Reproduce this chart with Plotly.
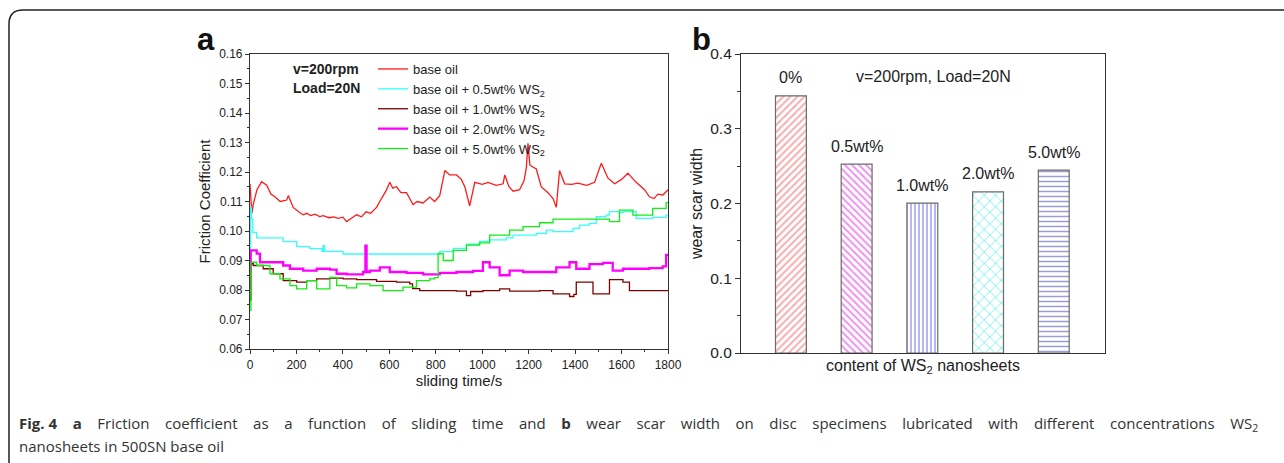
import plotly.graph_objects as go

W, H = 1284, 463

# ---------------- Data: panel a (friction coefficient vs time) ----------------
t_base = [0, 8, 14, 30, 50, 72, 90, 107, 130, 158, 165, 186, 215, 230, 244, 262, 280, 300, 315, 340, 360, 380, 400, 416,
          440, 459, 480, 500, 520, 545, 566, 585, 602, 615, 631, 650, 674, 702, 720, 745, 760, 774, 795, 817, 839, 860,
          889, 910, 925, 946, 968, 1000, 1025, 1060, 1090, 1097, 1115, 1133, 1161, 1180, 1190, 1197, 1205, 1211, 1233,
          1254, 1283, 1305, 1319, 1333, 1355, 1385, 1412, 1450, 1484, 1513, 1541, 1570, 1600, 1627, 1663, 1699, 1720,
          1740, 1756, 1778, 1800]
mu_base = [0.116, 0.106, 0.109, 0.114, 0.1167, 0.1155, 0.1125, 0.1116, 0.110, 0.1105, 0.112, 0.108, 0.1062, 0.1055,
           0.106, 0.1052, 0.1057, 0.1049, 0.1052, 0.1045, 0.1048, 0.1043, 0.1047, 0.1032, 0.1045, 0.1055, 0.1048,
           0.1065, 0.106, 0.108, 0.111, 0.1135, 0.1165, 0.1145, 0.115, 0.113, 0.113, 0.109, 0.110, 0.1095, 0.1105,
           0.1115, 0.110, 0.112, 0.1205, 0.119, 0.119, 0.1175, 0.115, 0.1085, 0.1165, 0.1158, 0.1165, 0.1155, 0.116,
           0.119, 0.115, 0.1135, 0.114, 0.117, 0.1215, 0.1297, 0.1225, 0.122, 0.121, 0.115, 0.113, 0.111, 0.108,
           0.1205, 0.116, 0.1158, 0.1162, 0.1155, 0.1165, 0.123, 0.118, 0.116, 0.1175, 0.1196, 0.1165, 0.114, 0.1116,
           0.111, 0.1125, 0.1122, 0.114]

t_05 = [0, 2, 6, 12, 29, 100, 143, 201, 258, 310, 315, 320, 401, 803, 817, 875, 932, 989, 1032, 1104, 1133, 1176,
        1233, 1276, 1305, 1391, 1419, 1462, 1491, 1534, 1548, 1591, 1606, 1663, 1734, 1792, 1800]
mu_05 = [0.087, 0.108, 0.104, 0.0995, 0.0977, 0.0977, 0.0964, 0.0947, 0.094, 0.0931, 0.095, 0.0931, 0.0922, 0.0922,
         0.093, 0.0941, 0.0955, 0.0965, 0.097, 0.0977, 0.0986, 0.0986, 0.0992, 0.1003, 0.0998, 0.1009, 0.102, 0.1026,
         0.1049, 0.1054, 0.1066, 0.1062, 0.1066, 0.1043, 0.1046, 0.1054, 0.1054]

t_10 = [0, 4, 14, 57, 100, 143, 201, 244, 287, 344, 401, 459, 545, 631, 688, 700, 731, 774, 889, 932, 950, 1003,
        1075, 1118, 1247, 1305, 1376, 1395, 1405, 1462, 1477, 1520, 1548, 1606, 1634, 1800]
mu_10 = [0.0766, 0.0889, 0.0883, 0.0872, 0.0855, 0.0832, 0.0827, 0.0832, 0.0838, 0.084, 0.0838, 0.0835, 0.0829,
         0.0827, 0.0821, 0.0805, 0.0798, 0.0798, 0.0796, 0.0781, 0.0795, 0.0798, 0.0804, 0.0796, 0.0798, 0.0787,
         0.0778, 0.0785, 0.0827, 0.0827, 0.0787, 0.0787, 0.0835, 0.0827, 0.0798, 0.0798]

t_20 = [0, 3, 14, 29, 43, 100, 143, 172, 229, 287, 344, 373, 416, 487, 492, 497, 502, 516, 559, 602, 674, 745, 817,
        889, 961, 1003, 1032, 1075, 1118, 1176, 1247, 1319, 1376, 1405, 1462, 1520, 1562, 1606, 1663, 1720, 1777,
        1792, 1800]
mu_20 = [0.0868, 0.0934, 0.0934, 0.0923, 0.0894, 0.0894, 0.0883, 0.0872, 0.0866, 0.0872, 0.0869, 0.0855, 0.0853,
         0.0861, 0.0861, 0.095, 0.0861, 0.0866, 0.0877, 0.0861, 0.0858, 0.0853, 0.0858, 0.0861, 0.0865, 0.0894,
         0.0877, 0.085, 0.0866, 0.0861, 0.0861, 0.0877, 0.0894, 0.0872, 0.0888, 0.0892, 0.0866, 0.0872, 0.0872,
         0.0874, 0.088, 0.0919, 0.092]

t_50 = [0, 4, 29, 86, 129, 172, 201, 244, 287, 344, 373, 416, 459, 516, 573, 602, 659, 717, 774, 795, 810, 832, 875,
        932, 989, 1032, 1118, 1176, 1247, 1305, 1391, 1505, 1548, 1591, 1649, 1734, 1792, 1800]
mu_50 = [0.0732, 0.0894, 0.0883, 0.0855, 0.0838, 0.0815, 0.0804, 0.0832, 0.0804, 0.0843, 0.0815, 0.0807, 0.0821,
         0.0815, 0.0798, 0.0798, 0.081, 0.0832, 0.0838, 0.0842, 0.0923, 0.090, 0.0934, 0.0952, 0.096, 0.0986, 0.1003,
         0.1015, 0.1028, 0.104, 0.104, 0.104, 0.1032, 0.1071, 0.1054, 0.1077, 0.1096, 0.1093]

series_names = ["base oil", "base oil + 0.5wt% WS<sub>2</sub>", "base oil + 1.0wt% WS<sub>2</sub>",
                "base oil + 2.0wt% WS<sub>2</sub>", "base oil + 5.0wt% WS<sub>2</sub>"]
series_colors = ["#ff1a1a", "#33ffff", "#800000", "#ff00ff", "#11ee11"]

# ---------------- Data: panel b (wear scar width) ----------------
conc_pos = [1, 2, 3, 4, 5]
conc_labels = ["0%", "0.5wt%", "1.0wt%", "2.0wt%", "5.0wt%"]
wear_width = [0.344, 0.2526, 0.2004, 0.2155, 0.2446]
bar_patterns = ["/", "\\", "|", "x", "-"]
bar_colors = ["#f05a5a", "#e020e0", "#3030e0", "#00e4e4", "#3a3aa0"]
bar_pattern_sizes = [5, 5, 4, 8, 5]
bar_pattern_solidity = [0.4, 0.4, 0.35, 0.22, 0.3]

caption_line1 = ["<b>Fig. 4</b>", "<b>a</b>", "Friction", "coefficient", "as", "a", "function", "of", "sliding",
                 "time", "and", "<b>b</b>", "wear", "scar", "width", "on", "disc", "specimens", "lubricated", "with",
                 "different", "concentrations", "WS<sub>2</sub>"]
caption_line2 = "nanosheets in 500SN base oil"

# ---------------- Figure ----------------
def px_x(x):
    return x / W

def px_y(y):
    return 1 - y / H

fig = go.Figure()

lines = [(t_base, mu_base, "linear", 1.3), (t_05, mu_05, "hv", 1.3), (t_10, mu_10, "hv", 1.3),
         (t_20, mu_20, "hv", 2.3), (t_50, mu_50, "hv", 1.3)]
for (tt, mm, shp, lw), name, col in zip(lines, series_names, series_colors):
    fig.add_trace(go.Scatter(x=tt, y=mm, mode="lines", name=name,
                             line=dict(color=col, width=lw, shape=shp),
                             xaxis="x", yaxis="y"))

fig.add_trace(go.Bar(x=conc_pos, y=wear_width, width=0.47, showlegend=False,
                     marker=dict(color="white",
                                 line=dict(color="#6a6a6a", width=1.2),
                                 pattern=dict(shape=bar_patterns, fgcolor=bar_colors,
                                              bgcolor="white", size=bar_pattern_sizes,
                                              solidity=bar_pattern_solidity,
                                              fillmode="overlay")),
                     xaxis="x2", yaxis="y2"))

FONT = "Liberation Sans, Arial, sans-serif"
axis_font = dict(family=FONT, color="#222")
line_col = "#333"

fig.update_layout(
    width=W, height=H, autosize=False,
    margin=dict(l=0, r=0, t=0, b=0, pad=0, autoexpand=False),
    paper_bgcolor="white", plot_bgcolor="white",
    font=axis_font,
    xaxis=dict(domain=[px_x(250), px_x(668)], range=[0, 1800], anchor="y", automargin=False,
               tickmode="array", tickvals=[0, 200, 400, 600, 800, 1000, 1200, 1400, 1600, 1800],
               ticks="outside", ticklen=4, tickwidth=1, tickcolor=line_col,
               minor=dict(ticks="outside", ticklen=2, dtick=100, tickcolor=line_col),
               showline=True, linecolor=line_col, linewidth=1.2, mirror=True,
               showgrid=False, zeroline=False, tickfont=dict(size=12),
               title=dict(text="sliding time/s", font=dict(size=15), standoff=4)),
    yaxis=dict(domain=[px_y(349), px_y(54)], range=[0.06, 0.16], anchor="x", automargin=False,
               tickmode="array", tickvals=[0.06, 0.07, 0.08, 0.09, 0.10, 0.11, 0.12, 0.13, 0.14, 0.15, 0.16],
               tickformat=".2f",
               ticks="outside", ticklen=4, tickwidth=1, tickcolor=line_col,
               minor=dict(ticks="outside", ticklen=2, dtick=0.005, tickcolor=line_col),
               showline=True, linecolor=line_col, linewidth=1.2, mirror=True,
               showgrid=False, zeroline=False, tickfont=dict(size=12),
               title=dict(text="Friction Coefficient", font=dict(size=15), standoff=4)),
    xaxis2=dict(domain=[px_x(741), px_x(1105)], range=[0.24, 5.78], anchor="y2", automargin=False,
                showticklabels=False, ticks="",
                showline=True, linecolor=line_col, linewidth=1.2, mirror=True,
                showgrid=False, zeroline=False,
                title=dict(text="content of WS<sub>2</sub> nanosheets", font=dict(size=16), standoff=6)),
    yaxis2=dict(domain=[px_y(353), px_y(54)], range=[0, 0.4], anchor="x2", automargin=False,
                tickmode="array", tickvals=[0, 0.1, 0.2, 0.3, 0.4], tickformat=".1f",
                ticks="outside", ticklen=5, tickwidth=1, tickcolor=line_col,
                minor=dict(ticks="outside", ticklen=3, dtick=0.05, tickcolor=line_col),
                showline=True, linecolor=line_col, linewidth=1.2, mirror=True,
                showgrid=False, zeroline=False, tickfont=dict(size=15.5),
                title=dict(text="wear scar width", font=dict(size=16), standoff=3)),
    legend=dict(x=px_x(373), y=px_y(54), xanchor="left", yanchor="top",
                bgcolor="rgba(0,0,0,0)", borderwidth=0,
                font=dict(size=13, family=FONT, color="#222"),
                tracegroupgap=0, itemwidth=30),
    showlegend=True,
)

ann = []
# panel letters
ann.append(dict(text="<b>a</b>", x=px_x(206), y=px_y(40), xref="paper", yref="paper", showarrow=False,
                xanchor="center", yanchor="middle", font=dict(size=31, family=FONT, color="#111")))
ann.append(dict(text="<b>b</b>", x=px_x(701), y=px_y(40), xref="paper", yref="paper", showarrow=False,
                xanchor="center", yanchor="middle", font=dict(size=31, family=FONT, color="#111")))
# panel a condition text
ann.append(dict(text="<b>v=200rpm</b>", x=px_x(291), y=px_y(69), xref="paper", yref="paper", showarrow=False,
                xanchor="left", yanchor="middle", font=dict(size=14, color="#222")))
ann.append(dict(text="<b>Load=20N</b>", x=px_x(291), y=px_y(88), xref="paper", yref="paper", showarrow=False,
                xanchor="left", yanchor="middle", font=dict(size=14, color="#222")))
# panel b condition text
ann.append(dict(text="v=200rpm, Load=20N", x=px_x(933), y=px_y(77), xref="paper", yref="paper",
                showarrow=False, xanchor="center", yanchor="middle", font=dict(size=16, color="#222")))
# bar labels
for xp, yv, lab in zip(conc_pos, wear_width, conc_labels):
    ann.append(dict(text=lab, x=xp, y=yv, xref="x2", yref="y2", showarrow=False, yshift=18,
                    xanchor="center", yanchor="middle", font=dict(size=16, color="#222")))
# caption (first line is justified in the original: widen the word gaps)
cap_font = dict(size=15, family="Open Sans, Noto Sans, sans-serif", color="#333")
gap = " " + "\u00a0" * 3
ann.append(dict(text=gap.join(caption_line1),
                x=px_x(17), y=px_y(424), xref="paper", yref="paper", showarrow=False, xanchor="left",
                yanchor="middle", font=cap_font))
ann.append(dict(text=caption_line2, x=px_x(17), y=px_y(446), xref="paper", yref="paper",
                showarrow=False, xanchor="left", yanchor="middle", font=cap_font))
fig.update_layout(annotations=ann)

# outer rounded frame
path = (f"M {px_x(9)},0 L {px_x(9)},{px_y(24)} Q {px_x(9)},{px_y(10)} {px_x(23)},{px_y(10)} "
        f"L 1,{px_y(10)}")
fig.add_shape(type="path", path=path, xref="paper", yref="paper", line=dict(color="#222", width=1.5))

fig.write_html("out.html", config={"displayModeBar": False},
               post_script="document.body.style.margin='0';document.body.style.overflow='hidden';")
